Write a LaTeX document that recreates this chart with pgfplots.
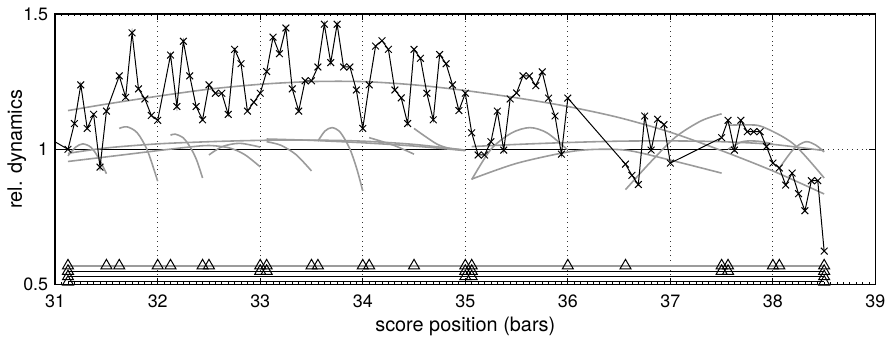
\documentclass[border=0pt]{standalone}
\usepackage{fontspec}
\setmainfont{TeX Gyre Heros}
\usepackage{pgfplots}
\pgfplotsset{compat=1.18}
\definecolor{fitgray}{RGB}{155,155,155}
\begin{document}
\begin{tikzpicture}
\begin{axis}[
  scale only axis, width=412.6pt, height=136.2pt,
  xmin=31, xmax=39, ymin=0.5, ymax=1.5,
  xtick={31,32,33,34,35,36,37,38,39}, ytick={0.5,1,1.5},
  minor x tick num=15,
  tick align=inside,
  major tick length=3.2pt, minor tick length=1.2pt,
  xmajorgrids, ymajorgrids,
  major grid style={dotted, black!80, line width=0.45pt},
  axis line style={line width=0.7pt},
  tick style={black, line width=0.5pt},
  minor tick style={black, line width=0.4pt},
  xlabel={score position (bars)}, ylabel={rel. dynamics},
  tick label style={font=\fontsize{9}{11}\selectfont},
  xticklabel style={yshift=-1.5pt},
  label style={font=\fontsize{9}{11}\selectfont},
  every axis y label/.style={at={(rel axis cs:-0.0467,0.5)}, rotate=90, anchor=center},
  every axis x label/.style={at={(rel axis cs:0.5,0)}, yshift=-21pt, anchor=center},
  /pgf/number format/assume math mode=true,
  clip=true,
]
\coordinate (SW) at (rel axis cs:0,0);
\coordinate (NE) at (rel axis cs:1,1);
% reference line
\addplot[black, line width=0.5pt] coordinates {(30.9,1) (38.5,1)};
% level 1 arc
\addplot[fitgray, line width=0.8pt, smooth] coordinates {
(31.125,1.143)(31.5,1.167)(32.0,1.196)(32.5,1.222)(33.0,1.240)(33.5,1.250)(34.0,1.250)(34.5,1.238)(35.0,1.217)(35.5,1.19)(36.0,1.158)(36.5,1.117)(37.0,1.063)(37.5,0.995)(38.0,0.92)(38.5,0.835)};
% level 2 arcs
\addplot[fitgray, line width=0.8pt, smooth] coordinates {
(31.125,0.985)(31.5,1.005)(32.0,1.02)(32.5,1.028)(33.0,1.033)(33.5,1.034)(34.0,1.03)(34.5,1.018)(35.0,0.997)};
\addplot[fitgray, line width=0.8pt, smooth] coordinates {
(35.0625,1.01)(35.5,1.018)(36.0,1.025)(36.5,1.03)(37.0,1.031)(37.5,1.028)(38.0,1.018)(38.5,0.995)};
% level 3 arcs
\addplot[fitgray, line width=0.8pt, smooth] coordinates {
(31.125,0.955)(31.5,0.972)(32.0,0.995)(32.3,1.008)(32.5,1.014)(32.7,1.005)(32.85,0.98)(33.0,0.935)};
\addplot[fitgray, line width=0.8pt, smooth] coordinates {
(33.0625,1.038)(33.5,1.033)(34.0,1.024)(34.5,1.012)(35.0,0.995)};
\addplot[fitgray, line width=0.8pt, smooth] coordinates {
(35.0625,0.89)(35.5,0.948)(36.0,0.99)(36.3,1.0)(36.6,0.995)(37.0,0.96)(37.5,0.912)};
\addplot[fitgray, line width=0.8pt, smooth] coordinates {
(37.5625,1.089)(37.75,1.09)(37.9,1.083)(38.2,1.02)(38.5,0.894)};
% level 4 arcs
\addplot[fitgray, line width=0.8pt, smooth] coordinates {
(31.125,0.976)(31.2,1.008)(31.27,1.02)(31.35,1.007)(31.42,0.97)(31.5,0.91)};
\addplot[fitgray, line width=0.8pt, smooth] coordinates {
(31.625,1.077)(31.7,1.083)(31.8,1.061)(31.9,0.995)(32.0,0.882)};
\addplot[fitgray, line width=0.8pt, smooth] coordinates {
(32.125,1.052)(32.17,1.056)(32.25,1.042)(32.32,1.006)(32.38,0.96)(32.4375,0.894)};
\addplot[fitgray, line width=0.8pt, smooth] coordinates {
(32.5,0.979)(32.63,1.01)(32.8,1.022)(33.0,1.008)};
\addplot[fitgray, line width=0.8pt, smooth] coordinates {
(33.0625,1.028)(33.2,1.015)(33.35,0.98)(33.5,0.92)};
\addplot[fitgray, line width=0.8pt, smooth] coordinates {
(33.5625,1.03)(33.63,1.067)(33.7,1.08)(33.78,1.063)(33.87,1.005)(33.94,0.93)(34.0,0.846)};
\addplot[fitgray, line width=0.8pt, smooth] coordinates {
(34.0625,1.043)(34.3,1.015)(34.5,0.982)};
\addplot[fitgray, line width=0.8pt, smooth] coordinates {
(34.5,1.077)(34.6,1.05)(34.73,1.018)(34.85,1.003)(35.0,0.997)};
\addplot[fitgray, line width=0.8pt, smooth] coordinates {
(35.0625,0.888)(35.25,1.0)(35.45,1.06)(35.63,1.08)(35.8,1.06)(36.0,0.997)};
\addplot[fitgray, line width=0.8pt, smooth] coordinates {
(36.5625,0.851)(36.8,0.95)(37.05,1.045)(37.3,1.105)(37.5,1.131)};
\addplot[fitgray, line width=0.8pt, smooth] coordinates {
(37.5625,1.0)(37.7,1.028)(37.85,1.03)(38.0,1.02)};
\addplot[fitgray, line width=0.8pt, smooth] coordinates {
(38.0625,0.93)(38.2,1.0)(38.32,1.028)(38.42,1.015)(38.5,0.99)};
% phrase boundary rows
\addplot[fitgray, line width=0.9pt] coordinates {(31.125,0.57) (38.5,0.57)};
\addplot[black, line width=0.5pt] coordinates {(31.125,0.55) (38.5,0.55)};
\addplot[black, line width=0.5pt] coordinates {(31.125,0.53) (38.5,0.53)};
\addplot[black, line width=0.5pt] coordinates {(31.125,0.51) (38.5,0.51)};
\addplot[only marks, mark=triangle, mark size=3.2pt, black, mark options={line width=0.5pt}] coordinates {
(31.125,0.57)(31.5,0.57)(31.625,0.57)(32.0,0.57)(32.125,0.57)(32.4375,0.57)(32.5,0.57)(33.0,0.57)(33.0625,0.57)(33.5,0.57)(33.5625,0.57)(34.0,0.57)(34.0625,0.57)(34.5,0.57)(35.0,0.57)(35.0625,0.57)(36.0,0.57)(36.5625,0.57)(37.5,0.57)(37.5625,0.57)(38.0,0.57)(38.0625,0.57)(38.5,0.57)};
\addplot[only marks, mark=triangle, mark size=3.2pt, black, mark options={line width=0.5pt}] coordinates {
(31.125,0.55)(33.0,0.55)(33.0625,0.55)(35.0,0.55)(35.0625,0.55)(37.5,0.55)(37.5625,0.55)(38.5,0.55)};
\addplot[only marks, mark=triangle, mark size=3.2pt, black, mark options={line width=0.5pt}] coordinates {
(31.125,0.53)(35.0,0.53)(35.0625,0.53)(38.5,0.53)};
\addplot[only marks, mark=triangle, mark size=3.2pt, black, mark options={line width=0.5pt}] coordinates {
(31.125,0.51)(38.5,0.51)};
% measured dynamics
\addplot[black, line width=0.5pt, mark=x, mark size=2.4pt, mark options={line width=0.5pt}] coordinates {
(30.9375,1.041)(31.125,1.0)(31.1875,1.095)(31.25,1.238)(31.3125,1.077)(31.375,1.129)(31.4375,0.934)(31.5,1.141)
(31.625,1.271)(31.6875,1.192)(31.75,1.43)(31.8125,1.223)(31.875,1.186)(31.9375,1.125)(32.0,1.107)
(32.125,1.348)(32.1875,1.158)(32.25,1.399)(32.3125,1.271)(32.375,1.158)(32.4375,1.109)
(32.5,1.238)(32.5625,1.207)(32.625,1.207)(32.6875,1.129)(32.75,1.369)(32.8125,1.316)(32.875,1.141)(32.9375,1.174)(33.0,1.207)
(33.0625,1.287)(33.125,1.414)(33.1875,1.353)(33.25,1.448)(33.3125,1.223)(33.375,1.141)(33.4375,1.253)(33.5,1.253)
(33.5625,1.304)(33.625,1.462)(33.6875,1.32)(33.75,1.462)(33.8125,1.304)(33.875,1.304)(33.9375,1.219)(34.0,1.077)
(34.0625,1.238)(34.125,1.381)(34.1875,1.401)(34.25,1.369)(34.3125,1.219)(34.375,1.19)(34.4375,1.095)
(34.5,1.369)(34.5625,1.336)(34.625,1.207)(34.6875,1.109)(34.75,1.35)(34.8125,1.316)(34.875,1.238)(34.9375,1.143)(35.0,1.207)
(35.0625,1.061)(35.125,0.979)(35.1875,0.979)(35.25,1.028)(35.3125,1.141)(35.375,0.997)(35.4375,1.186)(35.5,1.208)
(35.5625,1.271)(35.625,1.271)(35.6875,1.235)(35.75,1.286)(35.8125,1.189)(35.875,1.123)(35.9375,0.982)(36.0,1.189)
(36.5625,0.945)(36.625,0.904)(36.6875,0.87)(36.75,1.123)(36.8125,0.997)(36.875,1.111)(36.9375,1.091)(37.0,0.949)
(37.5,1.043)(37.5625,1.107)(37.625,0.997)(37.6875,1.107)(37.75,1.065)(37.8125,1.065)(37.875,1.065)(37.9375,1.01)
(38.0,0.949)(38.0625,0.931)(38.125,0.868)(38.1875,0.912)(38.25,0.836)(38.3125,0.773)(38.375,0.884)(38.4375,0.884)(38.5,0.624)};
\end{axis}
\path ([xshift=-27.75pt,yshift=-25.35pt]SW) rectangle ([xshift=5.65pt,yshift=7pt]NE);
\end{tikzpicture}
\end{document}
